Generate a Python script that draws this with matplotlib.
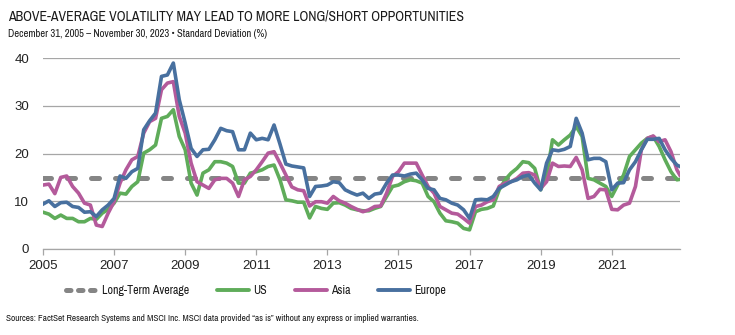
import numpy as np
import matplotlib
matplotlib.use("Agg")
from matplotlib import pyplot as plt
from matplotlib.lines import Line2D
import matplotlib.font_manager as fm

# months since Dec 2005, sampled every 2 months plus the last month (Nov 2023)
months = list(range(0, 216, 2)) + [215]

us = [7.7, 7.3, 6.4, 7.1, 6.4, 6.4, 5.7, 5.7, 6.4, 6.2, 7.5, 8.3, 9.6, 11.7, 11.5, 13.1,
      14.1, 20.1, 20.8, 21.8, 27.4, 27.8, 29.2, 23.6, 20.8, 13.8, 11.3, 15.9, 16.6, 18.3,
      18.3, 18.0, 17.3, 13.8, 13.8, 15.9, 16.2, 16.6, 17.3, 17.6, 14.5, 10.3, 10.1, 9.8,
      9.8, 6.5, 8.9, 8.5, 8.3, 9.6, 9.7, 9.2, 8.5, 8.2, 8.0, 8.0, 8.5, 8.9, 11.0, 13.1,
      13.4, 14.1, 14.5, 14.3, 13.8, 11.0, 9.9, 7.5, 5.9, 5.7, 5.4, 4.3, 4.0, 7.8, 8.3, 8.5,
      9.0, 12.4, 14.5, 15.9, 16.9, 18.3, 18.1, 16.9, 12.4, 15.2, 22.9, 21.8, 22.9, 23.9,
      25.7, 23.6, 14.8, 14.5, 13.8, 13.1, 11.0, 13.4, 15.5, 19.4, 20.8, 22.2, 23.2, 23.6,
      21.5, 18.7, 16.2, 14.5, 14.6]

asia = [13.4, 13.6, 11.6, 15.0, 15.3, 13.1, 11.7, 9.6, 9.2, 5.0, 4.7, 7.5, 9.9, 13.8, 16.6,
        18.7, 19.4, 24.3, 26.7, 27.4, 33.4, 34.8, 35.1, 27.8, 24.3, 18.0, 14.1, 13.4, 12.7,
        14.5, 14.8, 14.8, 13.8, 11.0, 14.5, 15.2, 16.6, 18.3, 20.1, 20.4, 18.0, 15.5, 13.0,
        12.4, 12.2, 9.0, 9.9, 9.9, 9.6, 11.0, 10.1, 9.6, 8.9, 8.3, 7.8, 8.2, 8.9, 9.0, 11.7,
        15.2, 16.2, 18.0, 18.0, 18.0, 15.5, 13.1, 11.7, 8.9, 8.2, 7.5, 7.3, 6.4, 5.4, 8.9,
        9.2, 9.9, 10.3, 13.1, 13.8, 14.1, 14.8, 15.9, 16.0, 15.5, 12.7, 14.1, 18.0, 17.3,
        17.4, 17.3, 19.2, 16.6, 10.6, 11.0, 12.5, 12.4, 8.3, 8.2, 9.2, 9.6, 13.1, 20.8, 23.2,
        23.7, 22.5, 22.9, 20.4, 16.6, 15.5]

europe = [9.4, 10.1, 8.9, 9.7, 9.8, 8.9, 8.7, 7.7, 7.8, 6.8, 8.2, 9.2, 10.6, 15.3, 14.8,
          16.2, 16.9, 25.0, 26.9, 28.5, 36.2, 36.5, 39.0, 31.3, 26.4, 21.1, 19.4, 20.8, 20.9,
          22.9, 25.3, 24.8, 24.6, 20.8, 20.8, 24.3, 22.9, 23.2, 22.9, 26.0, 22.0, 17.8, 17.4,
          17.2, 17.0, 11.0, 13.1, 13.2, 13.4, 14.1, 13.9, 12.4, 11.8, 11.3, 11.7, 10.6, 11.5,
          11.7, 13.8, 15.5, 15.5, 15.3, 15.7, 15.9, 14.5, 12.7, 12.4, 10.6, 10.3, 9.6, 9.2,
          8.2, 6.4, 10.3, 10.4, 10.3, 11.0, 12.7, 13.4, 14.1, 14.5, 15.2, 15.5, 13.8, 12.4,
          18.0, 20.8, 20.6, 20.9, 21.5, 27.4, 24.3, 18.7, 19.0, 19.0, 18.3, 12.4, 13.8, 13.9,
          16.6, 18.3, 20.8, 23.0, 23.0, 23.2, 20.8, 19.0, 17.6, 17.3]

long_term_avg = 14.8
tick_months = list(range(0, 216, 24))
tick_labels = ["2005", "2007", "2009", "2011", "2013", "2015", "2017", "2019", "2021"]
labels = ["Long-Term Average", "US", "Asia", "Europe"]

green = "#5fac5a"
pink = "#b45a9b"
blue = "#48709f"
grey = "#858585"
ink = "#1a1a1a"

# look for a narrow face (prefer "Narrow", then any condensed one), otherwise Lato
cond = None
for want in ("Narrow", "Condensed"):
    for f in fm.fontManager.ttflist:
        ok = want in f.name or (want == "Condensed" and f.stretch in
                                ("condensed", "semi-condensed", "extra-condensed"))
        if ok and f.style == "normal" and f.weight in (400, "normal", "regular"):
            cond = f.fname
            break
    if cond:
        break
if cond:
    base = fm.FontProperties(fname=cond)
else:
    base = fm.FontProperties(family=["Lato", "DejaVu Sans"])


def fp(size):
    p = base.copy()
    p.set_size(size)
    return p


fig = plt.figure(figsize=(7.35, 3.35), dpi=100)
ax = fig.add_axes([0.0585, 0.257, 0.8665, 0.569])

ax.plot([0, 215], [long_term_avg, long_term_avg], color=grey, lw=3.6,
        dashes=(1.6, 3.2), dash_capstyle="round", zorder=2)
ax.plot(months, us, color=green, lw=2.6, zorder=3, solid_joinstyle="round")
ax.plot(months, asia, color=pink, lw=2.6, zorder=4, solid_joinstyle="round")
ax.plot(months, europe, color=blue, lw=2.6, zorder=5, solid_joinstyle="round")

ax.set_xlim(0, 215)
ax.set_ylim(0, 40)
ax.set_yticks([0, 10, 20, 30, 40])
ax.set_xticks(tick_months)
ax.set_xticklabels(tick_labels)
ax.grid(axis="y", color="#a6a6a6", lw=0.9)
ax.set_axisbelow(True)
for s in ["top", "right", "left"]:
    ax.spines[s].set_visible(False)
ax.spines["bottom"].set_color("#a6a6a6")
ax.spines["bottom"].set_linewidth(0.9)
ax.tick_params(axis="y", length=0, pad=10, labelsize=9.5, labelcolor="#222222")
ax.tick_params(axis="x", length=4, color="#a6a6a6", width=0.9, pad=4,
               labelsize=9.5, labelcolor="#222222")
for lab in ax.get_xticklabels() + ax.get_yticklabels():
    lab.set_family(["Liberation Sans", "DejaVu Sans"])

title = fig.text(0.011, 0.952, "ABOVE-AVERAGE VOLATILITY MAY LEAD TO MORE LONG/SHORT OPPORTUNITIES",
                 fontproperties=fp(10), color=ink, va="center", ha="left")
fig.text(0.011, 0.898, "December 31, 2005 – November 30, 2023 • Standard Deviation (%)",
         fontproperties=fp(7.6), color=ink, va="center", ha="left")
fig.text(0.008, 0.05, "Sources: FactSet Research Systems and MSCI Inc. MSCI data provided "
         "\u201cas is\u201d without any express or implied warranties.",
         fontproperties=fp(6.7), color=ink, va="center", ha="left")

# scale the title so it spans the same width as in the original
renderer = fig.canvas.get_renderer()
w = title.get_window_extent(renderer).width
title.set_fontsize(title.get_fontsize() * 455 / w)

leg_size = 8.6
handles = [
    Line2D([], [], color=grey, lw=3.6, dashes=(0.9, 1.5), dash_capstyle="round"),
    Line2D([], [], color=green, lw=2.8, solid_capstyle="round"),
    Line2D([], [], color=pink, lw=2.8, solid_capstyle="round"),
    Line2D([], [], color=blue, lw=2.8, solid_capstyle="round"),
]
px = leg_size * 100 / 72
leg = fig.legend(handles, labels, loc="center", bbox_to_anchor=(0.348, 0.133), ncol=4,
                 frameon=False, handlelength=32 / px, handletextpad=4 / px,
                 columnspacing=28 / px, borderpad=0, borderaxespad=0, prop=fp(leg_size))
for t in leg.get_texts():
    t.set_color(ink)

fig.savefig("out.png", dpi=100)
